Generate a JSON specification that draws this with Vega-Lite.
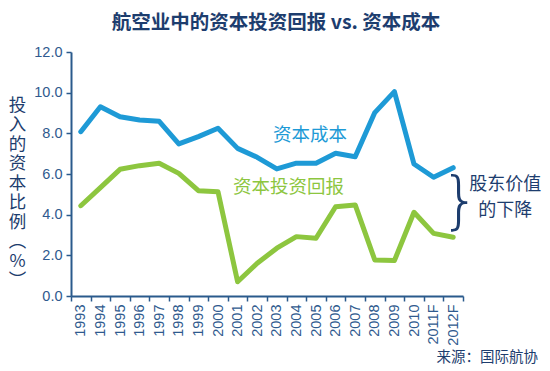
{
  "$schema": "https://vega.github.io/schema/vega-lite/v6.json",
  "width": 392,
  "height": 244,
  "autosize": {"type": "none"},
  "padding": {"left": 71, "top": 52, "right": 87, "bottom": 75},
  "background": "white",
  "config": {"view": {"stroke": null}, "font": "Noto Sans CJK SC"},
  "title": {"text": "航空业中的资本投资回报 vs. 资本成本", "anchor": "middle", "fontSize": 19.5, "fontWeight": "bold", "color": "#1d3d6e", "font": "Noto Sans CJK SC", "offset": 11, "dx": 9},
  "datasets": {
    "series": [
      {"year": "1993", "series": "资本成本", "value": 8.08},
      {"year": "1994", "series": "资本成本", "value": 9.31},
      {"year": "1995", "series": "资本成本", "value": 8.82},
      {"year": "1996", "series": "资本成本", "value": 8.66},
      {"year": "1997", "series": "资本成本", "value": 8.59},
      {"year": "1998", "series": "资本成本", "value": 7.48},
      {"year": "1999", "series": "资本成本", "value": 7.84},
      {"year": "2000", "series": "资本成本", "value": 8.25},
      {"year": "2001", "series": "资本成本", "value": 7.26},
      {"year": "2002", "series": "资本成本", "value": 6.82},
      {"year": "2003", "series": "资本成本", "value": 6.25},
      {"year": "2004", "series": "资本成本", "value": 6.53},
      {"year": "2005", "series": "资本成本", "value": 6.53},
      {"year": "2006", "series": "资本成本", "value": 7.02},
      {"year": "2007", "series": "资本成本", "value": 6.85},
      {"year": "2008", "series": "资本成本", "value": 9.02},
      {"year": "2009", "series": "资本成本", "value": 10.05},
      {"year": "2010", "series": "资本成本", "value": 6.49},
      {"year": "2011F", "series": "资本成本", "value": 5.84},
      {"year": "2012F", "series": "资本成本", "value": 6.31},
      {"year": "1993", "series": "资本投资回报", "value": 4.44},
      {"year": "1994", "series": "资本投资回报", "value": 5.33},
      {"year": "1995", "series": "资本投资回报", "value": 6.23},
      {"year": "1996", "series": "资本投资回报", "value": 6.41},
      {"year": "1997", "series": "资本投资回报", "value": 6.53},
      {"year": "1998", "series": "资本投资回报", "value": 6.03},
      {"year": "1999", "series": "资本投资回报", "value": 5.18},
      {"year": "2000", "series": "资本投资回报", "value": 5.13},
      {"year": "2001", "series": "资本投资回报", "value": 0.7},
      {"year": "2002", "series": "资本投资回报", "value": 1.61},
      {"year": "2003", "series": "资本投资回报", "value": 2.35},
      {"year": "2004", "series": "资本投资回报", "value": 2.92},
      {"year": "2005", "series": "资本投资回报", "value": 2.84},
      {"year": "2006", "series": "资本投资回报", "value": 4.39},
      {"year": "2007", "series": "资本投资回报", "value": 4.48},
      {"year": "2008", "series": "资本投资回报", "value": 1.77},
      {"year": "2009", "series": "资本投资回报", "value": 1.74},
      {"year": "2010", "series": "资本投资回报", "value": 4.12},
      {"year": "2011F", "series": "资本投资回报", "value": 3.08},
      {"year": "2012F", "series": "资本投资回报", "value": 2.89}
    ],
    "notes": [
      {"note": "cost", "year": "2005", "value": 7.9, "text": "资本成本"},
      {"note": "roic", "year": "2004", "value": 5.36, "text": "资本投资回报"},
      {"note": "brace", "year": "2012F", "value": 4.6, "text": "}"},
      {"note": "side", "year": "2012F", "value": 5.46, "text": "股东价值"},
      {"note": "side", "year": "2012F", "value": 4.18, "text": "的下降"},
      {"note": "source", "year": "2012F", "value": -3.05, "text": "来源：国际航协"}
    ]
  },
  "encoding": {
    "x": {"field": "year", "type": "ordinal",
      "scale": {"type": "band", "domain": ["1993","1994","1995","1996","1997","1998","1999","2000","2001","2002","2003","2004","2005","2006","2007","2008","2009","2010","2011F","2012F"], "paddingInner": 0, "paddingOuter": 0},
      "axis": {"title": null, "labelAngle": -90, "tickBand": "extent", "domainColor": "#2a5a8c", "domainWidth": 2, "tickColor": "#2a5a8c", "tickWidth": 1.5, "tickSize": 5, "labelColor": "#2f5a8e", "labelFont": "Liberation Sans", "labelFontSize": 14.5, "labelPadding": 3, "grid": false}},
    "y": {"field": "value", "type": "quantitative",
      "scale": {"domain": [0, 12], "nice": false, "zero": false},
      "axis": {"values": [0, 2, 4, 6, 8, 10, 12], "format": ".1f", "grid": false, "domainColor": "#2a5a8c", "domainWidth": 2, "tickColor": "#2a5a8c", "tickWidth": 1.5, "tickSize": 5, "labelColor": "#2f5a8e", "labelFont": "Liberation Sans", "labelFontSize": 14.5, "labelPadding": 4,
        "title": ["投", "入", "的", "资", "本", "比", "例", "︵", "%", "︶"], "titleAngle": 0, "titleFont": "Noto Sans CJK SC", "titleFontSize": 17.5, "titleFontWeight": "normal", "titleColor": "#1d3d6e", "titleLineHeight": 19.5, "titleX": -54, "titleY": 44, "titleAlign": "center", "titleBaseline": "top"}}
  },
  "layer": [
    {
      "data": {"name": "series"},
      "mark": {"type": "line", "strokeWidth": 5, "strokeJoin": "round", "strokeCap": "round"},
      "encoding": {
        "color": {"field": "series", "type": "nominal", "scale": {"domain": ["资本成本", "资本投资回报"], "range": ["#1e9ad6", "#8dc63f"]}, "legend": null}
      }
    },
    {
      "data": {"name": "notes"},
      "transform": [{"filter": "datum.note === 'cost'"}],
      "mark": {"type": "text", "fontSize": 18.5, "color": "#1e9ad6", "align": "center", "baseline": "middle", "dx": -6},
      "encoding": {"text": {"field": "text"}}
    },
    {
      "data": {"name": "notes"},
      "transform": [{"filter": "datum.note === 'roic'"}],
      "mark": {"type": "text", "fontSize": 18.5, "color": "#8dc63f", "align": "center", "baseline": "middle", "dx": -8},
      "encoding": {"text": {"field": "text"}}
    },
    {
      "data": {"name": "notes"},
      "transform": [{"filter": "datum.note === 'brace'"}],
      "mark": {"type": "text", "fontSize": 62, "font": "DejaVu Sans", "fontWeight": 300, "color": "#1d3d6e", "align": "center", "baseline": "middle", "dx": 7},
      "encoding": {"text": {"field": "text"}}
    },
    {
      "data": {"name": "notes"},
      "transform": [{"filter": "datum.note === 'side'"}],
      "mark": {"type": "text", "fontSize": 18, "color": "#1d3d6e", "align": "center", "baseline": "middle", "dx": 52},
      "encoding": {"text": {"field": "text"}}
    },
    {
      "data": {"name": "notes"},
      "transform": [{"filter": "datum.note === 'source'"}],
      "mark": {"type": "text", "fontSize": 14.5, "color": "#1d3d6e", "align": "center", "baseline": "middle", "dx": 34},
      "encoding": {"text": {"field": "text"}}
    }
  ]
}
